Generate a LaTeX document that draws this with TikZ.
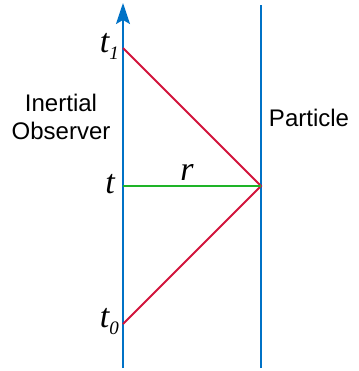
\documentclass[tikz,border=0pt]{standalone}
\usepackage{fontspec}
\setmainfont{Liberation Serif}
\setsansfont{Liberation Sans}
\usetikzlibrary{arrows.meta}
\definecolor{lblue}{RGB}{0,114,198}
\definecolor{lred}{RGB}{210,20,60}
\definecolor{lgreen}{RGB}{30,180,40}
\tikzset{
  axis/.style={draw=lblue, line width=2pt},
  ray/.style={draw=lred, line width=1.8pt},
  dist/.style={draw=lgreen, line width=1.8pt},
  tlab/.style={font=\fontsize{34}{34}\selectfont\itshape, inner sep=0pt, anchor=base east},
  sans/.style={font=\fontsize{24}{28}\selectfont\sffamily, inner sep=0pt, align=center}
}
\newcommand{\subidx}[1]{\raisebox{-7pt}{\fontsize{19}{19}\selectfont #1}}
\begin{document}
\begin{tikzpicture}[x=1pt,y=-1pt]
\useasboundingbox (0,0) rectangle (358,371);
\coordinate (obot) at (123,368);
\coordinate (otop) at (123,3);
\coordinate (pbot) at (261,368);
\coordinate (ptop) at (261,5);
\coordinate (t1) at (123,48);
\coordinate (t) at (123,186);
\coordinate (t0) at (123,324);
\coordinate (ev) at (261,186);
\draw[axis, -{Stealth[length=21pt,width=14pt,inset=4pt]}] (obot) -- (otop);
\draw[axis] (pbot) -- (ptop);
\draw[ray] (t1) -- (ev) -- (t0);
\draw[dist] (t) -- (ev);
\node[tlab] (lt1) at (119,53) {t\subidx{1}};
\node[tlab] (lt) at (115,193) {t};
\node[tlab] (lt0) at (119,327) {t\subidx{0}};
\node[tlab, anchor=base] (lr) at (187,180) {r};
\node[sans] (io) at (61,117) {Inertial\\Observer};
\node[sans] (pa) at (309,118) {Particle};
\end{tikzpicture}
\end{document}
